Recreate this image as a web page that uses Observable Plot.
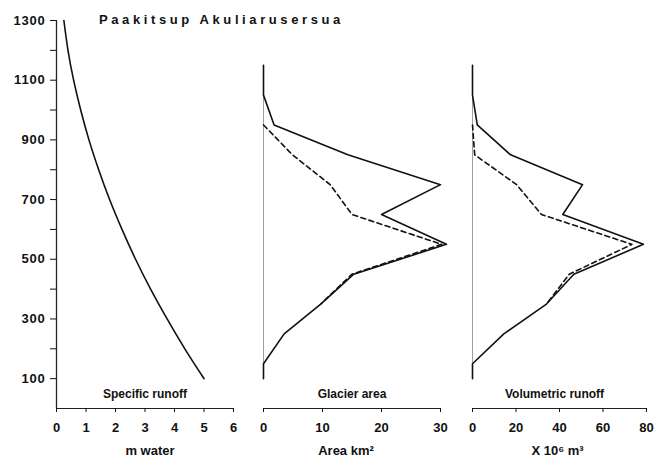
<!DOCTYPE html>
<html>
<head>
<meta charset="utf-8">
<script src="https://cdn.jsdelivr.net/npm/d3@7"></script>
<script src="https://cdn.jsdelivr.net/npm/@observablehq/plot@0.6"></script>
<style>
  body { margin: 0; background: #fff; }
  #chart { position: relative; width: 660px; height: 457px; background: #fff;
           font-family: "Liberation Sans", Arial, sans-serif; color: #111; }
  .panel { position: absolute; top: 0; }
  #title { position: absolute; left: 99px; top: 12px; font-weight: bold; font-size: 13px;
           letter-spacing: 3.6px; white-space: nowrap; line-height: 16px; }
  g[aria-label="y-axis tick label"] text { letter-spacing: 0.8px; }
  g[aria-label="panel-name"] text { letter-spacing: 1.9px; }
  g[aria-label="axis-title"] text { letter-spacing: 2.6px; }
</style>
</head>
<body>
<div id="chart">
  <div id="title">Paakitsup Akuliarusersua</div>
</div>
<script>
// ---- Data ----
const titleText = "Paakitsup Akuliarusersua";

// Panel 1: specific runoff (m water) against elevation (m)
const runoffElev = [1300, 1200, 1100, 1000, 900, 800, 700, 600, 500, 400, 300, 200, 100];
const specificRunoff = [0.25, 0.39, 0.58, 0.82, 1.1, 1.43, 1.8, 2.22, 2.68, 3.19, 3.75, 4.35, 5.0];

// Panels 2 & 3: elevation bands
const bandElev = [1150, 1050, 950, 850, 750, 650, 550, 450, 350, 250, 150, 100];
const areaSolid = [0, 0, 1.8, 14.3, 30, 20, 31, 15.3, 9.7, 3.5, 0, 0];
const volSolid  = [0, 0, 2.2, 17.5, 50.6, 41.5, 78.6, 46.6, 34, 14.4, 0, 0];

const dashedElev = [950, 850, 750, 650, 550, 450, 350];
const areaDashed = [0, 4.9, 11.3, 15, 30.2, 15, 9.7];
const volDashed  = [0, 1, 20.3, 31.7, 73.3, 44.5, 34];

// Axis ticks and labels
const yTicks = [100, 200, 300, 400, 500, 600, 700, 800, 900, 1000, 1100, 1200, 1300];
const yLabelled = [100, 300, 500, 700, 900, 1100, 1300];
const xTicks1 = [0, 1, 2, 3, 4, 5, 6];
const xTicks2 = [0, 10, 20, 30];
const xTicks3 = [0, 20, 40, 60, 80];
const panelNames = ["Specific runoff", "Glacier area", "Volumetric runoff"];
const axisTitles = ["m water", "Area km\u00b2", "X 10\u2076 m\u00b3"];

// ---- Build ----
const zip = (hs, vs) => hs.map((h, i) => ({h, v: vs[i]}));
const font = "'Liberation Sans', Arial, sans-serif";

function panel(opts) {
  const {left, width, marginLeft, marginRight, domain, ticks, solid, dashed, name, title,
         nameDx = 0, titleDx = 0, yAxis, curve = "linear"} = opts;
  const marks = [
    Plot.ruleY([0], {stroke: "#222", strokeWidth: 1.2}),
    Plot.axisX({ticks, tickSize: 4, tickPadding: 10, label: null, fontSize: 13, fontWeight: "bold",
      tickFormat: d => String(d)}),
  ];
  if (yAxis) {
    marks.push(Plot.ruleX([0], {stroke: "#222", strokeWidth: 1.3}));
    marks.push(Plot.axisY({ticks: yTicks, tickSize: 6, tickPadding: 5, label: null,
      fontSize: 13, fontWeight: "bold",
      tickFormat: d => yLabelled.includes(d) ? String(d) : ""}));
  } else {
    marks.push(Plot.ruleX([0], {y1: 100, y2: 1150, stroke: "#888", strokeWidth: 0.8}));
  }
  marks.push(Plot.line(solid, {x: "v", y: "h", stroke: "#111", strokeWidth: 1.6, curve}));
  if (dashed) marks.push(Plot.line(dashed, {x: "v", y: "h", stroke: "#111", strokeWidth: 1.6,
    strokeDasharray: "5,3.5"}));
  marks.push(Plot.text([name], {frameAnchor: "bottom", dy: -11, dx: nameDx, lineAnchor: "bottom",
    fontSize: 12, fontWeight: "bold", fill: "#111", ariaLabel: "panel-name"}));
  marks.push(Plot.text([title], {frameAnchor: "bottom", dy: 42, dx: titleDx, lineAnchor: "middle",
    fontSize: 13, fontWeight: "bold", fill: "#111", ariaLabel: "axis-title"}));

  const svg = Plot.plot({
    width, height: 457, marginTop: 20, marginBottom: 49, marginLeft, marginRight,
    x: {domain, axis: null}, y: {domain: [0, 1300], axis: null},
    style: {fontFamily: font, color: "#111", background: "transparent", overflow: "visible"},
    marks
  });
  const div = document.createElement("div");
  div.className = "panel";
  div.style.left = left + "px";
  div.appendChild(svg);
  document.getElementById("chart").appendChild(div);
}

document.getElementById("title").textContent = titleText;

panel({left: 0, width: 245, marginLeft: 56, marginRight: 12, domain: [0, 6], ticks: xTicks1,
  solid: zip(runoffElev, specificRunoff), name: panelNames[0], title: axisTitles[0],
  titleDx: 5, yAxis: true, curve: "natural"});
panel({left: 245, width: 210, marginLeft: 18, marginRight: 15, domain: [0, 30], ticks: xTicks2,
  solid: zip(bandElev, areaSolid), dashed: zip(dashedElev, areaDashed),
  name: panelNames[1], title: axisTitles[1], titleDx: -6});
panel({left: 455, width: 205, marginLeft: 17, marginRight: 14, domain: [0, 80], ticks: xTicks3,
  solid: zip(bandElev, volSolid), dashed: zip(dashedElev, volDashed),
  name: panelNames[2], title: axisTitles[2], nameDx: -5, titleDx: -2});
</script>
</body>
</html>
